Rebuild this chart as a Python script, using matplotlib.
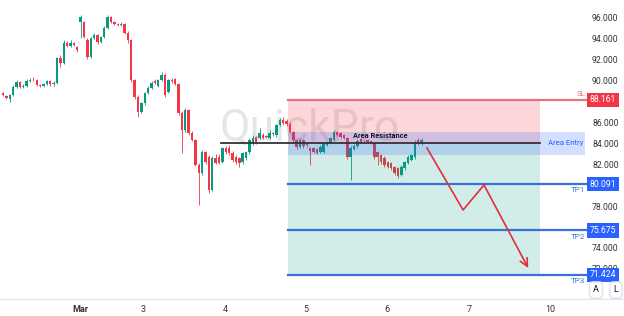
import numpy as np
import matplotlib.pyplot as plt
from matplotlib.patches import Rectangle
import matplotlib.transforms as mtransforms

plt.rcParams['font.family'] = ['Roboto', 'DejaVu Sans']

# hourly candles
opens = [88.82, 88.53, 88.25, 88.63, 89.40, 89.88, 89.40, 89.49, 89.97, 90.07,
         90.07, 89.59, 89.49, 89.68, 89.97, 89.68, 89.78, 92.17, 91.69, 93.61,
         93.32, 93.61, 93.22, 95.60, 95.62, 93.89, 92.27, 94.09, 94.37, 93.70,
         94.18, 95.04, 96.10, 95.62, 95.43, 95.33, 95.43, 94.56, 93.89, 90.07,
         88.44, 87.00, 87.87, 88.82, 89.30, 89.97, 89.49, 90.07, 90.55, 88.92,
         90.07, 90.17, 89.68, 86.91, 85.28, 87.20, 85.00, 84.33, 81.93, 81.17,
         83.18, 82.70, 79.54, 82.60, 82.70, 82.22, 83.56, 83.56, 83.08, 82.70,
         82.60, 82.22, 82.60, 83.18, 84.04, 84.61, 84.52, 84.80, 84.70, 84.52,
         84.90, 84.80, 85.76, 86.24, 86.15, 85.85, 85.09, 84.33, 83.66, 84.33,
         83.94, 83.56, 83.56, 83.46, 83.18, 83.18, 83.85, 84.04, 84.33, 85.09,
         85.00, 84.80, 84.52, 82.70, 83.46, 83.75, 84.42, 84.23, 84.33, 84.23,
         84.04, 83.18, 82.89, 82.60, 82.22, 82.12, 81.74, 81.65, 80.98, 81.65,
         82.12, 82.41, 82.70, 84.33, 83.94]
closes = [88.63, 88.34, 88.63, 89.40, 89.88, 89.40, 89.49, 89.97, 90.07, 90.02,
          89.59, 89.49, 89.68, 89.97, 89.68, 89.78, 92.17, 91.69, 93.61, 93.32,
          93.61, 93.40, 92.94, 96.05, 94.18, 92.27, 94.09, 94.37, 93.70, 94.18,
          95.04, 96.10, 95.62, 95.43, 95.33, 95.43, 94.56, 93.89, 90.07, 88.44,
          87.00, 87.87, 88.82, 89.30, 89.78, 89.78, 90.07, 90.55, 88.63, 90.07,
          89.97, 89.68, 86.91, 85.28, 87.20, 85.00, 84.33, 81.93, 81.17, 83.18,
          82.22, 79.54, 82.60, 82.12, 82.12, 83.56, 83.18, 83.08, 82.41, 82.22,
          82.12, 83.08, 83.18, 84.33, 84.52, 84.13, 85.00, 84.52, 84.61, 85.00,
          85.00, 85.76, 86.24, 85.95, 85.85, 85.09, 84.33, 83.66, 84.33, 83.75,
          83.85, 83.27, 83.18, 83.08, 83.66, 84.04, 84.13, 84.52, 85.09, 84.80,
          84.61, 84.52, 82.70, 83.56, 83.75, 84.23, 84.13, 84.20, 84.13, 84.04,
          82.70, 82.70, 82.22, 81.93, 81.74, 81.65, 81.17, 80.88, 81.74, 82.22,
          82.70, 82.89, 84.13, 83.94, 84.33]
highs = [88.95, 88.65, 88.75, 89.55, 90.05, 90.00, 89.65, 90.15, 90.25, 90.35,
         90.15, 89.70, 89.80, 90.10, 90.05, 89.95, 92.30, 92.45, 93.90, 93.75,
         93.85, 93.70, 93.35, 96.30, 95.75, 94.05, 94.20, 94.55, 94.45, 94.30,
         95.20, 96.25, 96.20, 95.70, 95.55, 95.60, 95.55, 94.80, 94.00, 90.20,
         88.60, 88.00, 88.95, 89.45, 90.00, 90.20, 90.20, 90.85, 90.70, 90.20,
         90.30, 90.30, 89.80, 87.10, 87.35, 87.30, 85.15, 84.45, 82.10, 83.35,
         83.30, 82.85, 82.75, 83.00, 83.00, 83.70, 83.75, 83.80, 83.25, 82.85,
         82.70, 83.20, 83.30, 84.50, 84.80, 84.75, 85.45, 84.95, 84.85, 85.25,
         85.10, 85.90, 86.45, 86.55, 86.30, 86.00, 85.20, 84.45, 84.50, 84.40,
         84.10, 83.70, 83.65, 83.60, 83.80, 84.15, 84.25, 84.65, 85.30, 85.20,
         85.10, 84.90, 84.65, 83.75, 83.90, 84.40, 84.55, 84.35, 84.45, 84.30,
         84.15, 83.30, 83.00, 82.75, 82.35, 82.20, 81.85, 81.75, 81.90, 82.35,
         82.85, 83.00, 84.30, 84.50, 84.55]
lows = [88.50, 88.20, 87.95, 88.50, 89.30, 89.30, 89.30, 89.40, 89.90, 89.95,
        89.45, 89.40, 89.35, 89.60, 89.50, 89.45, 89.70, 91.30, 91.60, 93.20,
        93.25, 93.30, 92.70, 94.10, 94.05, 92.10, 92.20, 93.95, 93.50, 93.60,
        94.05, 94.95, 95.50, 95.30, 95.25, 95.25, 94.45, 93.60, 89.90, 88.20,
        86.50, 86.90, 87.70, 88.70, 89.20, 89.65, 89.35, 89.95, 88.40, 88.80,
        89.80, 89.55, 86.70, 83.10, 85.10, 84.80, 84.20, 81.80, 78.10, 81.00,
        82.00, 79.30, 79.40, 82.00, 82.00, 82.10, 83.00, 82.90, 82.20, 82.00,
        81.70, 82.05, 82.40, 83.00, 83.85, 83.90, 84.40, 84.40, 84.50, 84.40,
        84.75, 84.65, 85.65, 85.80, 85.70, 84.95, 84.15, 83.50, 83.55, 83.60,
        83.70, 81.90, 83.05, 82.95, 83.05, 83.05, 83.75, 83.90, 84.20, 84.70,
        84.50, 84.40, 82.50, 80.50, 83.35, 83.60, 84.00, 84.10, 84.00, 83.90,
        82.50, 81.90, 82.00, 81.70, 81.60, 81.50, 81.00, 80.70, 80.85, 81.50,
        82.00, 82.30, 82.55, 83.80, 83.85]

# trade levels
sl_price = 88.161
tp_prices = [80.091, 75.675, 71.424]
tp_names = ["TP1", "TP2", "TP3"]
entry_price = 84.04
entry_box = (82.89, 85.09)

# projected path (bar index, price)
path_x = [125.6, 136.3, 142.5, 155.6]
path_y = [83.56, 77.63, 80.02, 72.08]

day_ticks = [22.8, 41.5, 65.8, 89.8, 113.8, 138.1, 162.1]
day_labels = ["Mar", "3", "4", "5", "6", "7", "10"]
y_ticks = [72, 74, 76, 78, 82, 84, 86, 90, 92, 94, 96]

up_col = "#089981"
down_col = "#f23645"
blue = "#2962ff"

o = np.array(opens)
c = np.array(closes)
h = np.array(highs)
l = np.array(lows)
x = np.arange(len(o))
cols = np.where(c >= o, up_col, down_col)

fig = plt.figure(figsize=(6.24, 3.16), dpi=100)
ax = fig.add_axes([0, 17 / 316, 590 / 624, 299 / 316])
ax.set_xlim(-0.89, 173.9)
ax.set_ylim(69.11, 97.72)

# candles
ax.vlines(x, l, h, colors=cols, linewidth=0.6, zorder=3)
body = np.maximum(np.abs(c - o), 0.05)
ax.bar(x, body, bottom=np.minimum(o, c), width=0.72, color=cols, zorder=4, linewidth=0)

# watermark
ax.text(91, 85.5, "QuickPro", fontsize=32, color="#000000",
        alpha=0.1, ha="center", va="center", zorder=2)

# risk / reward zones
zx0, zx1 = 84.4, 159.1
ax.add_patch(Rectangle((zx0, entry_price), zx1 - zx0, sl_price - entry_price,
                       facecolor=down_col, alpha=0.2, linewidth=0, zorder=5))
ax.add_patch(Rectangle((zx0, tp_prices[-1]), zx1 - zx0, entry_price - tp_prices[-1],
                       facecolor=up_col, alpha=0.18, linewidth=0, zorder=5))
ax.add_patch(Rectangle((zx0, entry_box[0]), 172.4 - zx0, entry_box[1] - entry_box[0],
                       facecolor=blue, alpha=0.2, linewidth=0, zorder=5))
ax.text(172.0, entry_price, "Area Entry", color=blue, fontsize=5.6, ha="right",
        va="center", zorder=8)

# resistance line
ax.plot([64.6, 159.1], [entry_price, entry_price], color="#333333", lw=1.3, zorder=6)
ax.text(111.7, entry_price + 0.25, "Area Resistance", fontsize=5.3, fontweight="bold",
        color="#131722", ha="center", va="bottom", zorder=8)

# SL / TP lines
ax.plot([zx0, 173.9], [sl_price, sl_price], color="#e57380", lw=1.6, zorder=6)
ax.text(172.5, sl_price + 0.3, "SL", color="#e57380", fontsize=5.8, ha="right",
        va="bottom", zorder=8)
for p, name in zip(tp_prices, tp_names):
    ax.plot([zx0, 173.9], [p, p], color="#3b6fd9", lw=1.6, zorder=6)
    ax.text(172.5, p - 0.3, name, color="#3b6fd9", fontsize=5.8, ha="right",
            va="top", zorder=8)

# projected move
ax.plot(path_x[:3], path_y[:3], color="#e0303f", lw=1.2, zorder=7)
ax.annotate("", xy=(path_x[3], path_y[3]), xytext=(path_x[2], path_y[2]),
            arrowprops=dict(arrowstyle="->", color="#e0303f", lw=1.2,
                            mutation_scale=14, shrinkA=0, shrinkB=0), zorder=7)

# axes styling
for s in ax.spines.values():
    s.set_visible(False)
ax.yaxis.tick_right()
ax.set_yticks(y_ticks)
ax.set_yticklabels([f"{v:.3f}" for v in y_ticks])
ax.tick_params(axis="y", length=0, labelsize=6.2, labelcolor="#333333", pad=1.5)
ax.set_xticks(day_ticks)
ax.set_xticklabels(day_labels)
ax.tick_params(axis="x", length=0, labelsize=6.5, labelcolor="#333333", pad=4.5)
ax.get_xticklabels()[0].set_fontweight("bold")

# price tags on the axis
tr = mtransforms.blended_transform_factory(ax.transAxes, ax.transData)
ax.text(1.022, sl_price, f"{sl_price:.3f}", transform=tr, color="white", fontsize=6.2,
        ha="center", va="center", clip_on=False, zorder=20,
        bbox=dict(boxstyle="square,pad=0.32", facecolor="#f23645", edgecolor="none"))
for p in tp_prices:
    ax.text(1.022, p, f"{p:.3f}", transform=tr, color="white", fontsize=6.2,
            ha="center", va="center", clip_on=False, zorder=20,
            bbox=dict(boxstyle="square,pad=0.32", facecolor=blue, edgecolor="none"))

# bottom separator and A / L buttons
fig.add_artist(plt.Line2D([0, 1], [17 / 316, 17 / 316], color="#e0e3eb", lw=0.8))
for bx, lab in [(596 / 624, "A"), (616 / 624, "L")]:
    fig.text(bx, 26 / 316, lab, fontsize=6.5, color="#131722", ha="center", va="center",
             bbox=dict(boxstyle="round,pad=0.4", facecolor="white", edgecolor="#e0e3eb"))

plt.savefig("out.png", dpi=100)
